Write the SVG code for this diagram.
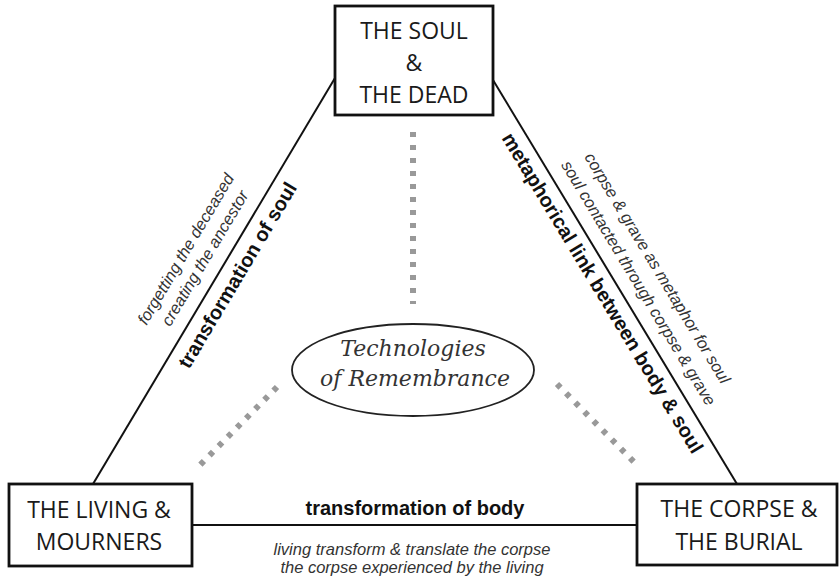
<svg xmlns="http://www.w3.org/2000/svg" width="840" height="580" viewBox="0 0 840 580">
<style>
.box{fill:#fff;stroke:#111;stroke-width:2.8}
.node{font-family:"Open Sans","Noto Sans",sans-serif;font-size:23px;fill:#1a1a1a;text-anchor:middle}
.edge{stroke:#111;stroke-width:2;fill:none}
.dots{stroke:#999;stroke-width:6;stroke-dasharray:5 8;fill:none}
.bold{font-family:"Liberation Sans",Arial,sans-serif;font-weight:bold;font-size:20px;fill:#111;text-anchor:middle}
.ital{font-family:"Liberation Sans",Arial,sans-serif;font-style:italic;font-size:16.5px;fill:#333;text-anchor:middle}
.center{font-family:"DejaVu Serif",serif;font-style:italic;font-size:22px;fill:#333;text-anchor:middle}
</style>
<rect width="840" height="580" fill="#fff"/>
<g id="connectors">
<line class="edge" x1="335" y1="78" x2="93" y2="484"/>
<line class="edge" x1="493" y1="80" x2="737" y2="484"/>
<line class="edge" x1="192" y1="525" x2="637" y2="525"/>
<line class="dots" x1="413" y1="132" x2="413" y2="304"/>
<line class="dots" x1="277" y1="387" x2="197" y2="468"/>
<line class="dots" x1="557" y1="384" x2="637" y2="465"/>
<g transform="translate(214,281) rotate(-59.2)">
<text class="bold" x="17" y="24">transformation of soul</text>
<text class="ital" x="13" y="-35">forgetting the deceased</text>
<text class="ital" x="15" y="-14">creating the ancestor</text>
</g>
<g transform="translate(615,282) rotate(58.9)">
<text class="bold" x="3" y="23">metaphorical link between body &amp; soul</text>
<text class="ital" x="10" y="-38">corpse &amp; grave as metaphor for soul</text>
<text class="ital" x="13" y="-14">soul contacted through corpse &amp; grave</text>
</g>
<text class="bold" x="415" y="515">transformation of body</text>
<text class="ital" x="412" y="555">living transform &amp; translate the corpse</text>
<text class="ital" x="412" y="573">the corpse experienced by the living</text>
</g>
<g id="soul">
<rect class="box" x="335" y="6" width="158" height="109"/>
<text class="node" x="414" y="39">THE SOUL</text>
<text class="node" x="414" y="71">&amp;</text>
<text class="node" x="414" y="103">THE DEAD</text>
</g>
<g id="living">
<rect class="box" x="9" y="484" width="183" height="82"/>
<text class="node" x="99" y="518">THE LIVING &amp;</text>
<text class="node" x="99" y="550">MOURNERS</text>
</g>
<g id="corpse">
<rect class="box" x="637" y="484" width="200" height="81"/>
<text class="node" x="739" y="517">THE CORPSE &amp;</text>
<text class="node" x="739" y="550">THE BURIAL</text>
</g>
<g id="remembrance">
<ellipse cx="413" cy="370" rx="121" ry="46" fill="none" stroke="#222" stroke-width="1.8"/>
<text class="center" x="413" y="356">Technologies</text>
<text class="center" x="415" y="386">of Remembrance</text>
</g>
</svg>
